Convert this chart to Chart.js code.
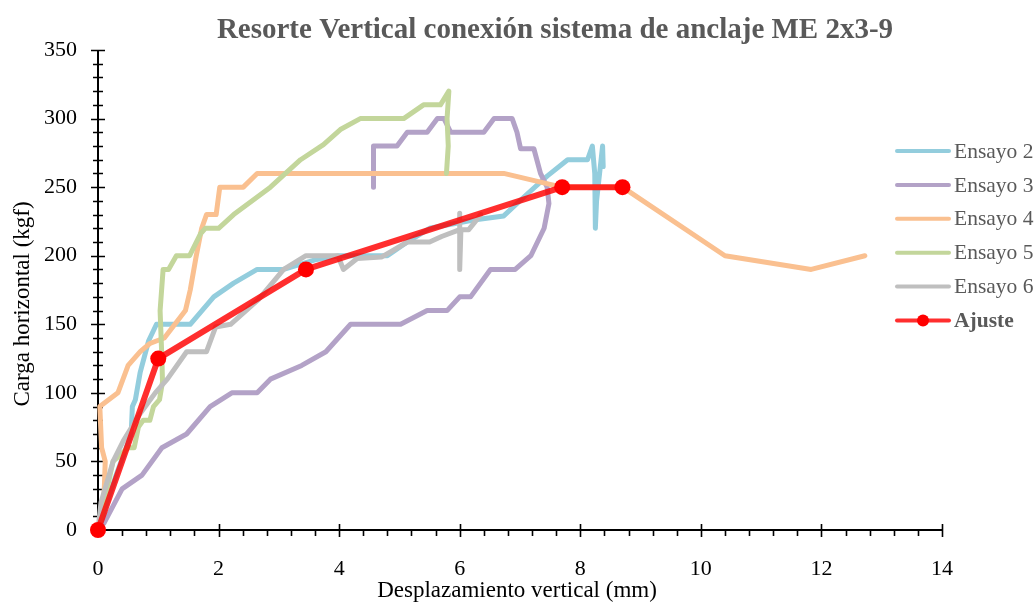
<!DOCTYPE html>
<html>
<head>
<meta charset="utf-8">
<script src="https://cdn.jsdelivr.net/npm/chart.js@4"></script>
<style>
	html, body { margin: 0; padding: 0; background: #ffffff; }
	#wrap { width: 1036px; height: 605px; position: relative; }
</style>
</head>
<body>
<div id="wrap"><canvas id="resorteChart" width="1036" height="605"></canvas></div>
<script>
// Ensayo 2
const ens2X = [0, 0.3, 0.55, 0.57, 0.62, 0.7, 0.84, 0.97, 1.53, 1.92, 2.25, 2.64, 3.08, 3.6, 4.0, 4.35, 4.8, 5.13, 5.5, 6.23, 6.73, 7.12, 7.45, 7.79, 8.12, 8.2, 8.24, 8.25, 8.27, 8.32, 8.37, 8.38];
const ens2Y = [0, 40, 70, 90, 95, 115, 138, 150, 150, 170, 180, 190, 190, 197, 200, 200, 200, 210, 220, 226, 229, 245, 258, 270, 270, 280, 260, 220, 240, 260, 280, 265];

// Ensayo 3
const ens3X = [0, 0.1, 0.4, 0.73, 1.06, 1.47, 1.86, 2.22, 2.64, 2.86, 3.38, 3.78, 4.19, 5.02, 5.46, 5.79, 6.0, 6.18, 6.51, 6.92, 7.18, 7.4, 7.48, 7.45, 7.34, 7.23, 7.01, 6.95, 6.87, 6.57, 6.4, 5.85, 5.74, 5.63, 5.46, 5.13, 4.96, 4.57, 4.57];
const ens3Y = [0, 5, 30, 40, 60, 70, 90, 100, 100, 110, 120, 130, 150, 150, 160, 160, 170, 170, 190, 190, 200, 220, 238, 250, 260, 278, 278, 290, 300, 300, 290, 290, 300, 300, 290, 290, 280, 280, 250];

// Ensayo 4
const ens4X = [0, 0.1, 0.12, 0.06, 0.03, 0.33, 0.5, 0.7, 0.86, 1.1, 1.45, 1.53, 1.63, 1.72, 1.8, 1.96, 2.02, 2.41, 2.64, 6.73, 7.5, 7.7, 8.7, 10.4, 11.83, 12.72];
const ens4Y = [0, 25, 50, 60, 90, 100, 120, 130, 136, 140, 160, 175, 200, 220, 230, 230, 250, 250, 260, 260, 252, 250, 250, 200, 190, 200];

// Ensayo 5
const ens5X = [0, 0.2, 0.25, 0.5, 0.6, 0.67, 0.75, 0.86, 0.92, 1.02, 1.07, 1.06, 1.03, 1.08, 1.17, 1.3, 1.52, 1.7, 1.78, 2.0, 2.25, 2.86, 3.36, 3.74, 4.02, 4.35, 5.07, 5.4, 5.68, 5.82, 5.79, 5.81, 5.78];
const ens5Y = [0, 40, 50, 60, 60, 75, 80, 80, 90, 95, 108, 125, 160, 190, 190, 200, 200, 216, 220, 220, 230, 250, 270, 281, 292, 300, 300, 310, 310, 320, 300, 280, 260];

// Ensayo 6
const ens6X = [0, 0.05, 0.25, 0.42, 0.7, 0.95, 1.15, 1.47, 1.8, 1.95, 2.2, 2.66, 3.08, 3.45, 3.98, 4.07, 4.3, 4.7, 4.9, 5.13, 5.5, 5.7, 6.0, 6.0, 6.0, 6.02, 6.15, 6.35];
const ens6Y = [0, 20, 50, 65, 85, 100, 110, 130, 130, 148, 150, 168, 190, 200, 200, 190, 198, 199, 204, 210, 210, 214, 219, 231, 190, 219, 219, 230];

// Ajuste (bilineal)
const ajusteX = [0, 1, 3.45, 7.7, 8.7];
const ajusteY = [0, 125, 190, 250, 250];

const seriesNames = ["Ensayo 2", "Ensayo 3", "Ensayo 4", "Ensayo 5", "Ensayo 6", "Ajuste"];
const seriesColors = ["#93CDDD", "#B3A2C7", "#FAC090", "#C3D69B", "#BFBFBF", "rgba(255,0,0,0.82)"];

const xTickLabels = [0, 2, 4, 6, 8, 10, 12, 14];
const yTickLabels = [0, 50, 100, 150, 200, 250, 300, 350];

const SERIF = "'Liberation Serif', 'Times New Roman', serif";

// join x and y lists into points
function toPoints(xs, ys) {
	return xs.map((x, i) => ({ x: x, y: ys[i] }));
}

function ensayo(idx, xs, ys) {
	return {
		label: seriesNames[idx],
		data: toPoints(xs, ys),
		showLine: true,
		borderColor: seriesColors[idx],
		backgroundColor: seriesColors[idx],
		borderWidth: 5,
		borderJoinStyle: "round",
		borderCapStyle: "round",
		pointRadius: 0,
		tension: 0,
		clip: false,
		order: 10 - idx,
	};
}

/*######################################*
||   Axes, ticks, titles and legend    ||
*######################################*/

const decorPlugin = {
	id: "decor",
	beforeDatasetsDraw(chart) {
		const ctx = chart.ctx;
		const xs = chart.scales.x;
		const ys = chart.scales.y;
		const x0 = xs.getPixelForValue(0);
		const y0 = ys.getPixelForValue(0);
		ctx.save();
		ctx.strokeStyle = "#000000";
		ctx.lineWidth = 2;
		ctx.beginPath();
		ctx.moveTo(x0, ys.getPixelForValue(350));
		ctx.lineTo(x0, y0);
		ctx.lineTo(xs.getPixelForValue(14), y0);
		ctx.stroke();

		// y ticks: major every 50, minor every 10 (both cross the axis)
		ctx.lineWidth = 1.6;
		ctx.beginPath();
		for (let v = 0; v <= 350; v += 10) {
			const py = Math.round(ys.getPixelForValue(v)) + 0.5;
			const len = v % 50 === 0 ? 7 : 5;
			ctx.moveTo(x0 - len, py);
			ctx.lineTo(x0 + len, py);
		}
		ctx.stroke();

		// x ticks: major every 2 (cross), minor every 0.4 (outside)
		ctx.beginPath();
		for (let k = 0; k <= 35; k++) {
			const v = k * 0.4;
			const px = Math.round(xs.getPixelForValue(v)) + 0.5;
			if (k % 5 === 0) {
				ctx.moveTo(px, y0 - 6);
				ctx.lineTo(px, y0 + 7);
			} else {
				ctx.moveTo(px, y0);
				ctx.lineTo(px, y0 + 6);
			}
		}
		ctx.stroke();

		// axis titles
		ctx.fillStyle = "#000000";
		ctx.font = "23px " + SERIF;
		ctx.textAlign = "center";
		ctx.textBaseline = "middle";
		ctx.fillText("Desplazamiento vertical (mm)", 517, 591);
		ctx.save();
		ctx.translate(23, 304);
		ctx.rotate(-Math.PI / 2);
		ctx.fillText("Carga horizontal (kgf)", 0, 0);
		ctx.restore();
		ctx.restore();
	},
	afterDraw(chart) {
		const ctx = chart.ctx;
		ctx.save();
		// title
		ctx.fillStyle = "#595959";
		ctx.font = "bold 29px " + SERIF;
		ctx.textAlign = "center";
		ctx.textBaseline = "alphabetic";
		ctx.fillText("Resorte Vertical conexión sistema de anclaje ME 2x3-9", 555, 38);

		// legend
		const ds = chart.data.datasets;
		ctx.textAlign = "left";
		ctx.textBaseline = "middle";
		for (let i = 0; i < ds.length; i++) {
			const cy = 151 + i * 33.9;
			ctx.strokeStyle = ds[i].borderColor;
			ctx.lineWidth = 4;
			ctx.lineCap = "round";
			ctx.beginPath();
			ctx.moveTo(897, cy);
			ctx.lineTo(949, cy);
			ctx.stroke();
			if (ds[i].pointRadius > 0) {
				ctx.fillStyle = "#FF0000";
				ctx.beginPath();
				ctx.arc(923, cy, 6, 0, Math.PI * 2);
				ctx.fill();
			}
			ctx.fillStyle = "#595959";
			ctx.font = (i === ds.length - 1 ? "bold " : "") + "21.5px " + SERIF;
			ctx.fillText(ds[i].label, 954, cy + 1);
		}
		ctx.restore();
	},
};

new Chart("resorteChart", {
	type: "scatter",
	data: {
		datasets: [
			ensayo(0, ens2X, ens2Y),
			ensayo(1, ens3X, ens3Y),
			ensayo(2, ens4X, ens4Y),
			ensayo(3, ens5X, ens5Y),
			ensayo(4, ens6X, ens6Y),
			{
				label: seriesNames[5],
				data: toPoints(ajusteX, ajusteY),
				showLine: true,
				borderColor: seriesColors[5],
				borderWidth: 6,
				borderJoinStyle: "round",
				pointRadius: 8,
				pointBackgroundColor: "#FF0000",
				pointBorderWidth: 0,
				tension: 0,
				clip: false,
				order: 1,
			},
		],
	},
	options: {
		responsive: false,
		animation: false,
		layout: {
			padding: { top: 50, right: 94, left: 0, bottom: 0 },
		},
		plugins: {
			legend: { display: false },
			title: { display: false },
			tooltip: { enabled: false },
		},
		scales: {
			x: {
				type: "linear",
				min: 0,
				max: 14,
				afterFit: (scale) => {
					scale.height = 75;
				},
				afterBuildTicks: (scale) => {
					scale.ticks = xTickLabels.map((v) => ({ value: v }));
				},
				grid: { display: false, drawTicks: false },
				border: { display: false },
				ticks: {
					padding: 26,
					color: "#000000",
					font: { family: SERIF, size: 22 },
				},
			},
			y: {
				type: "linear",
				min: 0,
				max: 350,
				afterFit: (scale) => {
					scale.width = 98;
				},
				afterBuildTicks: (scale) => {
					scale.ticks = yTickLabels.map((v) => ({ value: v }));
				},
				grid: { display: false, drawTicks: false },
				border: { display: false },
				ticks: {
					padding: 21,
					color: "#000000",
					font: { family: SERIF, size: 22 },
				},
			},
		},
	},
	plugins: [decorPlugin],
});
</script>
</body>
</html>
